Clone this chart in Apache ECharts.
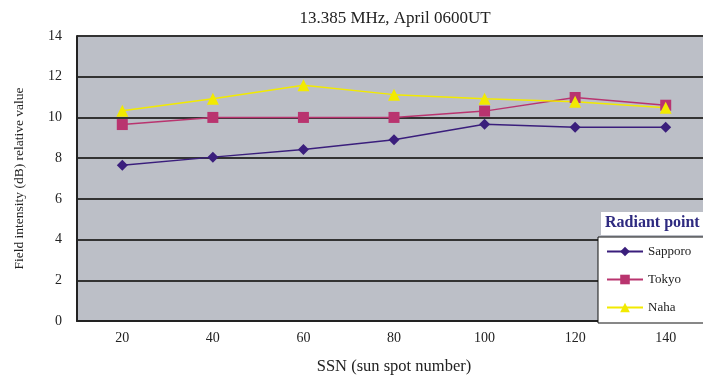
<!DOCTYPE html>
<html><head><meta charset="utf-8">
<script src="https://cdn.jsdelivr.net/npm/echarts@6/dist/echarts.min.js"></script>
<style>html,body{margin:0;padding:0;background:#fff}#c{width:703px;height:376px}</style>
</head><body><div id="c"></div>
<script>
const categories = ['20','40','60','80','100','120','140'];
const sapporo = [7.65, 8.05, 8.42, 8.9, 9.66, 9.52, 9.52];
const tokyo   = [9.65, 10.0, 10.0, 10.0, 10.31, 10.98, 10.6];
const naha    = [10.33, 10.92, 11.58, 11.12, 10.92, 10.77, 10.48];
const yTicks = [0, 14, 2];

const serif = '"Liberation Serif", "DejaVu Serif", serif';
const chart = echarts.init(document.getElementById('c'), null, {renderer:'canvas'});
function ser(name, data, color, symbol, size){
  return {name, type:'line', data, symbol, symbolSize:size,
    lineStyle:{color, width:1.5}, itemStyle:{color}, z: 3};
}
chart.setOption({
  animation:false,
  title:[
    {text:'13.385 MHz, April 0600UT', left:390, top:5, textAlign:'center',
     textStyle:{fontFamily:serif, fontSize:17, fontWeight:'normal', color:'#222'}},
    {text:'Radiant point', left:601, top:212,
     backgroundColor:'#fff', padding:[3,20,4,4],
     textStyle:{fontFamily:serif, fontSize:16, fontWeight:'bold', color:'#2e2a80'}}
  ],
  grid:{left:77, right:-8, top:36, bottom:55, show:true, backgroundColor:'#bcbfc7', borderWidth:0,
    outerBoundsMode:'none', containLabel:false},
  legend:{orient:'vertical', left:598, top:237, backgroundColor:'#fff', borderColor:'#111', borderWidth:1,
    padding:[8,40,9,8], itemWidth:36, itemHeight:12, itemGap:15,
    textStyle:{fontFamily:serif, fontSize:13, color:'#222'},
    data:['Sapporo','Tokyo','Naha']},
  xAxis:{type:'category', data:categories, boundaryGap:true,
    name:'SSN (sun spot number)', nameLocation:'middle', nameGap:37,
    nameTextStyle:{fontFamily:serif, fontSize:16.5, color:'#222'},
    axisLine:{lineStyle:{color:'#222', width:2}},
    axisTick:{inside:true, length:5, lineStyle:{color:'#222', width:2}},
    axisLabel:{fontFamily:serif, fontSize:14, color:'#222', margin:10}},
  yAxis:{type:'value', min:yTicks[0], max:yTicks[1], interval:yTicks[2],
    name:'Field intensity (dB) relative value', nameLocation:'middle', nameGap:51,
    nameTextStyle:{fontFamily:serif, fontSize:13.5, color:'#222'},
    axisLine:{show:true, lineStyle:{color:'#222', width:2}},
    axisTick:{show:false},
    splitLine:{lineStyle:{color:'#333', width:2}},
    axisLabel:{fontFamily:serif, fontSize:14, color:'#222', margin:15}},
  series:[
    ser('Sapporo', sapporo, '#3a1e7c', 'diamond', 11),
    ser('Tokyo', tokyo, '#b9346f', 'rect', 11),
    ser('Naha', naha, '#f2ea00', 'triangle', 12)
  ]
});
</script></body></html>
